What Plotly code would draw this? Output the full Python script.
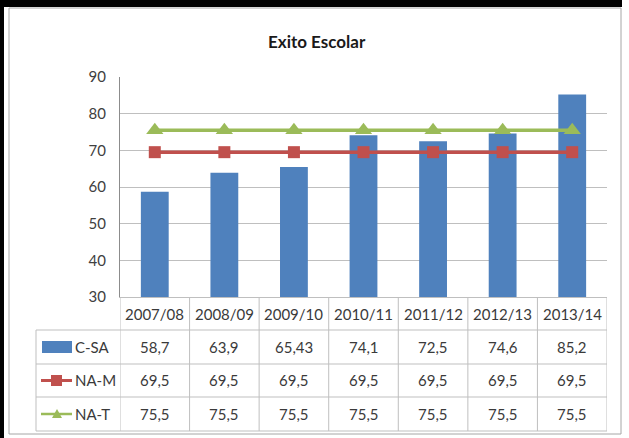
import plotly.graph_objects as go

categories = ["2007/08", "2008/09", "2009/10", "2010/11", "2011/12", "2012/13", "2013/14"]
c_sa = [58.7, 63.9, 65.43, 74.1, 72.5, 74.6, 85.2]
na_m = [69.5, 69.5, 69.5, 69.5, 69.5, 69.5, 69.5]
na_t = [75.5, 75.5, 75.5, 75.5, 75.5, 75.5, 75.5]
series_names = ["C-SA", "NA-M", "NA-T"]
y_ticks = [30, 40, 50, 60, 70, 80, 90]
title_text = "Exito Escolar"

BLUE = "#4F81BD"
RED = "#C0504D"
GREEN = "#9BBB59"
GRID = "#BFBFBF"
TXT = "#3A3A3A"
FONT = "Lato"

W, H = 629, 438
L, R, T, B = 120, 607, 77, 297  # plot area in pixels


def px(x):
    return (x - L) / (R - L)


def py(y):
    return (B - y) / (B - T)


def fmt(v):
    return ("%g" % v).replace(".", ",")


fig = go.Figure()
fig.add_trace(go.Bar(x=categories, y=c_sa, name=series_names[0], marker_color=BLUE,
                     marker_line_width=0))
fig.add_trace(go.Scatter(x=categories, y=na_m, name=series_names[1], mode="lines+markers",
                         line=dict(color=RED, width=3.5),
                         marker=dict(symbol="square", size=12, color=RED)))
fig.add_trace(go.Scatter(x=categories, y=na_t, name=series_names[2], mode="lines+markers",
                         line=dict(color=GREEN, width=3.5),
                         marker=dict(symbol="triangle-up", size=15, color=GREEN)))

shapes = []
# black bands of the screenshot frame
shapes.append(dict(type="rect", xref="paper", yref="paper", x0=px(-1), x1=px(622), y0=py(-1), y1=py(7),
                   fillcolor="black", line_width=0, layer="above"))
shapes.append(dict(type="rect", xref="paper", yref="paper", x0=px(-1), x1=px(4), y0=py(-1), y1=py(H + 1),
                   fillcolor="black", line_width=0, layer="above"))
# chart border
shapes.append(dict(type="rect", xref="paper", yref="paper", x0=px(9), x1=px(621), y0=py(8), y1=py(434),
                   line=dict(color="#A6A6A6", width=1), fillcolor="rgba(0,0,0,0)"))

# data table grid
row_lines = [330, 364, 397, 431]
row_centers = [313.5, 347, 380.5, 414]
for yy in row_lines:
    shapes.append(dict(type="line", xref="paper", yref="paper", x0=px(36), x1=px(R), y0=py(yy), y1=py(yy),
                       line=dict(color=GRID, width=1)))
shapes.append(dict(type="line", xref="paper", yref="paper", x0=px(36), x1=px(36), y0=py(330), y1=py(431),
                   line=dict(color=GRID, width=1)))
for k in range(len(categories) + 1):
    xk = k - 0.5
    shapes.append(dict(type="line", xref="x", yref="paper", x0=xk, x1=xk, y0=py(297), y1=py(431),
                       line=dict(color=GRID, width=1)))

# legend keys in table
shapes.append(dict(type="rect", xref="paper", yref="paper", x0=px(42), x1=px(72), y0=py(341), y1=py(353),
                   fillcolor=BLUE, line_width=0))
shapes.append(dict(type="line", xref="paper", yref="paper", x0=px(41), x1=px(72), y0=py(380.5), y1=py(380.5),
                   line=dict(color=RED, width=3)))
shapes.append(dict(type="rect", xref="paper", yref="paper", x0=px(51), x1=px(62), y0=py(375), y1=py(386),
                   fillcolor=RED, line_width=0))
shapes.append(dict(type="line", xref="paper", yref="paper", x0=px(41), x1=px(72), y0=py(414), y1=py(414),
                   line=dict(color=GREEN, width=2.5)))
tri = "M %f,%f L %f,%f L %f,%f Z" % (px(52), py(418), px(62), py(418), px(57), py(409))
shapes.append(dict(type="path", xref="paper", yref="paper", path=tri, fillcolor=GREEN, line_width=0))

annotations = []
annotations.append(dict(text="<b>%s</b>" % title_text, xref="paper", yref="paper", x=px(317), y=py(41),
                        showarrow=False, font=dict(family=FONT, size=17, color="#1A1A1A"),
                        xanchor="center", yanchor="middle"))
for i, c in enumerate(categories):
    annotations.append(dict(text=c, xref="x", yref="paper", x=i, y=py(row_centers[0]), showarrow=False,
                            font=dict(family=FONT, size=15, color=TXT), xanchor="center", yanchor="middle"))
for r, vals in enumerate([c_sa, na_m, na_t]):
    for i, v in enumerate(vals):
        annotations.append(dict(text=fmt(v), xref="x", yref="paper", x=i, y=py(row_centers[r + 1]),
                                showarrow=False, font=dict(family=FONT, size=15, color=TXT),
                                xanchor="center", yanchor="middle"))
    annotations.append(dict(text=series_names[r], xref="paper", yref="paper", x=px(73), y=py(row_centers[r + 1]),
                            showarrow=False, font=dict(family=FONT, size=15, color=TXT),
                            xanchor="left", yanchor="middle"))

fig.update_layout(
    width=W, height=H,
    margin=dict(l=L, r=W - R, t=T, b=H - B, pad=0),
    paper_bgcolor="white", plot_bgcolor="white",
    showlegend=False,
    bargap=0.6,
    shapes=shapes,
    annotations=annotations,
    font=dict(family=FONT, color=TXT),
    hovermode=False,
)
fig.update_xaxes(type="category", range=[-0.5, 6.5], showticklabels=False, showgrid=False,
                 showline=True, linecolor=GRID, linewidth=1, zeroline=False, fixedrange=True)
fig.update_yaxes(range=[30, 90], tickvals=y_ticks, showgrid=True, gridcolor=GRID, gridwidth=1,
                 showline=True, linecolor="#8C8C8C", linewidth=1, zeroline=False, fixedrange=True,
                 ticks="outside", ticklen=10, tickcolor="rgba(0,0,0,0)",
                 tickfont=dict(family=FONT, size=15, color="#404040"))

fig.write_html("out.html", config={"displayModeBar": False},
               post_script="document.body.style.margin='0';document.body.style.overflow='hidden';")
